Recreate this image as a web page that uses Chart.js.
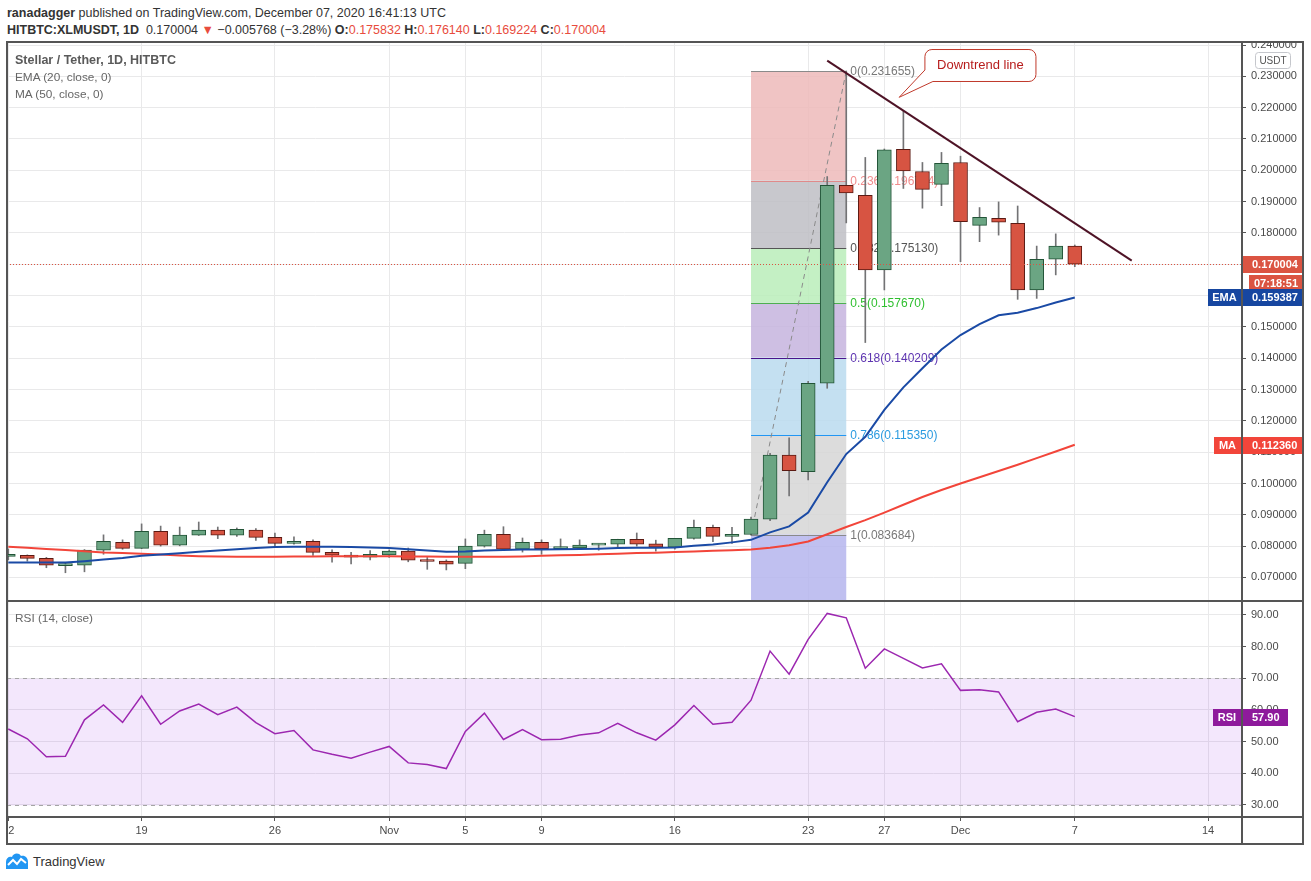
<!DOCTYPE html>
<html lang="en">

<head>
  <meta charset="UTF-8">
  <title>Stellar / Tether, 1D, HITBTC</title>
  <style>
    body {
      margin: 0;
      width: 1311px;
      height: 881px;
      position: relative;
      overflow: hidden;
      background: #fff;
      font-family: "Liberation Sans", Arial, sans-serif;
      color: #333;
    }

    canvas { position: absolute; }
    #price { left: 7px; top: 42px; }
    #rsi { left: 7px; top: 601px; }

    .txt { position: absolute; white-space: nowrap; line-height: 16px; }
    #hdr1 { left: 7px; top: 5px; font-size: 12.5px; }
    #hdr2 { left: 7px; top: 22px; font-size: 12.5px; }
    .red { color: #e84c3d; }
    .leg { left: 15px; font-size: 11.8px; color: #666; }
    .leg.main { font-size: 12.5px; font-weight: bold; color: #5a5a5a; }

    .line { position: absolute; background: #555; }
    #frame {
      position: absolute; left: 6px; top: 41px; width: 1294px; height: 800px;
      border: 2px solid #555; pointer-events: none;
    }

    #logo { position: absolute; left: 5px; top: 852px; }
    #logoTxt { left: 33px; top: 854px; font-size: 13px; color: #333; }
  </style>
</head>

<body>
  <div class="txt" id="hdr1"><b>ranadagger</b> published on TradingView.com, December 07, 2020 16:41:13 UTC</div>
  <div class="txt" id="hdr2"></div>

  <canvas id="price" width="1297" height="559"></canvas>
  <canvas id="rsi" width="1297" height="243"></canvas>

  <div class="txt leg main" style="top:52px">Stellar / Tether, 1D, HITBTC</div>
  <div class="txt leg" style="top:69px">EMA (20, close, 0)</div>
  <div class="txt leg" style="top:86px">MA (50, close, 0)</div>
  <div class="txt leg" style="top:610px">RSI (14, close)</div>

  <div id="frame"></div>
  <div class="line" style="left:7px; top:600px; width:1297px; height:2px"></div>
  <div class="line" style="left:7px; top:816px; width:1297px; height:2px"></div>
  <div class="line" style="left:1241px; top:42px; width:2px; height:802px"></div>

  <svg id="logo" width="24" height="18" viewBox="0 0 24 18">
    <path d="M1 17 V10 C1 6 4 4 7 5 C8 1 14 0 16 4 C20 3 23 6 23 10 V17 Z" fill="#2196f3" />
    <polyline points="3,13 8,8 12,12 16,7 21,11" fill="none" stroke="#fff" stroke-width="2" />
  </svg>
  <div class="txt" id="logoTxt">TradingView</div>

  <script src="https://cdn.jsdelivr.net/npm/chart.js"></script>

  <script>
    /* daily candles, Oct 12 -> Dec 7 2020 (index 0 = Oct 12) */
    const opens = [0.0767, 0.0771, 0.0761, 0.0738, 0.0739, 0.0787, 0.0812, 0.0793, 0.0847, 0.0803,
      0.0835, 0.0851, 0.0835, 0.0851, 0.0828, 0.0809, 0.0815, 0.0780, 0.0771, 0.0765,
      0.0772, 0.0784, 0.0755, 0.0752, 0.0745, 0.0800, 0.0838, 0.0790, 0.0812, 0.0792,
      0.0794, 0.0803, 0.0806, 0.0822, 0.0807, 0.0797, 0.0825, 0.0860, 0.0831, 0.0837,
      0.0886, 0.1091, 0.1038, 0.1320, 0.1952, 0.1920, 0.1682, 0.2067, 0.1996, 0.1955,
      0.2025, 0.1824, 0.1847, 0.1831, 0.1618, 0.1716, 0.175832]
    const highs = [0.0791, 0.0772, 0.0764, 0.0747, 0.0789, 0.0836, 0.0820, 0.0871, 0.0864, 0.0861,
      0.0877, 0.0861, 0.0858, 0.0856, 0.0842, 0.0830, 0.0820, 0.0788, 0.0780, 0.0786,
      0.0788, 0.0794, 0.0764, 0.0756, 0.0823, 0.0851, 0.0862, 0.0826, 0.0820, 0.0823,
      0.0820, 0.0807, 0.0822, 0.0842, 0.0819, 0.0825, 0.0883, 0.0867, 0.0860, 0.0893,
      0.1096, 0.1146, 0.1326, 0.1980, 0.2317, 0.2041, 0.2068, 0.2190, 0.2025, 0.2057,
      0.2045, 0.1881, 0.1899, 0.1886, 0.1758, 0.1797, 0.176140]
    const lows = [0.0756, 0.0752, 0.0731, 0.0715, 0.0718, 0.0774, 0.0790, 0.0792, 0.0800, 0.0801,
      0.0834, 0.0824, 0.0831, 0.0818, 0.0796, 0.0806, 0.0770, 0.0749, 0.0743, 0.0756,
      0.0764, 0.0750, 0.0726, 0.0724, 0.0728, 0.0797, 0.0788, 0.0781, 0.0774, 0.0790,
      0.0790, 0.0787, 0.0794, 0.0800, 0.0784, 0.0790, 0.0822, 0.0814, 0.0809, 0.0835,
      0.0881, 0.0960, 0.1011, 0.1304, 0.1832, 0.1450, 0.1618, 0.1942, 0.1879, 0.1887,
      0.1708, 0.1772, 0.1793, 0.1588, 0.1591, 0.1666, 0.169224]
    const closes = [0.0774, 0.0761, 0.0739, 0.0740, 0.0787, 0.0815, 0.0793, 0.0847, 0.0803, 0.0835,
      0.0851, 0.0835, 0.0854, 0.0828, 0.0809, 0.0815, 0.0780, 0.0771, 0.0765, 0.0774,
      0.0784, 0.0755, 0.0751, 0.0742, 0.0800, 0.0838, 0.0790, 0.0812, 0.0792, 0.0794,
      0.0803, 0.0807, 0.0822, 0.0806, 0.0797, 0.0825, 0.0860, 0.0831, 0.0838, 0.0886,
      0.1091, 0.1041, 0.1320, 0.1952, 0.1928, 0.1682, 0.2065, 0.1998, 0.1939, 0.2022,
      0.1836, 0.1850, 0.1834, 0.1618, 0.1716, 0.175772, 0.170004]

    const ema20 = [0.0748, 0.0748, 0.0748, 0.0748, 0.0752, 0.0757, 0.0762, 0.0769, 0.0773, 0.0777,
      0.0782, 0.0786, 0.0790, 0.0794, 0.0797, 0.0798, 0.0798, 0.0798, 0.0797, 0.0796,
      0.0794, 0.0790, 0.0786, 0.0782, 0.0783, 0.0786, 0.0788, 0.0789, 0.0789, 0.0790,
      0.0791, 0.0792, 0.0794, 0.0795, 0.0795, 0.0796, 0.0801, 0.0805, 0.0812, 0.0820,
      0.0844, 0.0863, 0.0907, 0.1004, 0.1094, 0.1149, 0.1235, 0.1307, 0.1368, 0.1428,
      0.1474, 0.1509, 0.1537, 0.1545, 0.1560, 0.1578, 0.159387]
    const ma50 = [0.0798, 0.0795, 0.0791, 0.0788, 0.0784, 0.0780, 0.0778, 0.0776, 0.0773, 0.0770,
      0.0768, 0.0767, 0.0766, 0.0766, 0.0766, 0.0767, 0.0767, 0.0768, 0.0768, 0.0768,
      0.0768, 0.0767, 0.0767, 0.0766, 0.0766, 0.0766, 0.0766, 0.0767, 0.0769, 0.0771,
      0.0772, 0.0774, 0.0776, 0.0778, 0.0779, 0.0781, 0.0783, 0.0785, 0.0787, 0.0789,
      0.0795, 0.0803, 0.0815, 0.0838, 0.0861, 0.0883, 0.0907, 0.0932, 0.0957, 0.0979,
      0.1000, 0.1020, 0.1040, 0.1060, 0.1081, 0.1102, 0.112360]
    const rsi14 = [54.0, 50.9, 45.2, 45.4, 56.9, 61.6, 56.1, 64.5, 55.5, 59.7,
      61.9, 58.5, 60.9, 56.0, 52.5, 53.5, 47.4, 46.0, 44.8, 46.7,
      48.5, 43.3, 42.8, 41.5, 53.2, 59.0, 50.7, 53.8, 50.6, 50.8,
      52.1, 52.8, 55.8, 52.8, 50.5, 55.3, 61.4, 55.5, 56.1, 63.1,
      78.6, 71.3, 82.3, 90.5, 89.1, 73.2, 79.3, 76.3, 73.3, 74.6,
      66.2, 66.4, 65.7, 56.3, 59.3, 60.3, 57.90]

    const tickDays = [0, 7, 14, 20, 24, 28, 35, 42, 46, 50, 56, 63]
    const tickLabels = ['12', '19', '26', 'Nov', '5', '9', '16', '23', '27', 'Dec', '7', '14']

    const fibRatios = [0, 0.236, 0.382, 0.5, 0.618, 0.786, 1]
    const fibPrices = [0.231655, 0.196734, 0.175130, 0.157670, 0.140209, 0.115350, 0.083684]
    const fibDays = [39, 44]
    const trendDays = [43.0, 58.99]
    const trendPrices = [0.23499, 0.17113]
    const countdown = '07:18:51'

    /* view window and drawing styles */
    const X_MIN = -0.068, X_MAX = 64.78
    const P_MIN = 0.06248, P_MAX = 0.24096
    const R_MIN = 26.21, R_MAX = 94.42
    const FONT = '"Liberation Sans", Arial, sans-serif'
    const GRID = '#e9e9ea'
    const AXIS_TXT = '#4a4a4a'
    const fibFills = ['rgba(237,186,186,0.85)', 'rgba(190,190,196,0.85)', 'rgba(186,237,186,0.85)',
      'rgba(197,180,222,0.85)', 'rgba(186,219,238,0.85)', 'rgba(214,214,214,0.85)', 'rgba(181,181,237,0.85)']
    const fibLines = ['#8a8a8a', '#e08a8a', '#555555', '#4caf50', '#4a148c', '#2196f3', '#8a8a8a']
    const fibText = ['#787878', '#f08c8c', '#555555', '#2fbf2f', '#5e35b1', '#2b9be0', '#787878']
    const callout = { d0: 48.13, d1: 53.96, p0: 0.23856, p1: 0.22835, baseD: 48.55, baseP: 0.23202, tipD: 46.78, tipP: 0.2233 }

    const last = closes.length - 1
    const idx = closes.map((_, i) => i)
    const isUp = i => closes[i] >= opens[i]

    /* header line built from the last candle */
    const chg = closes[last] - closes[last - 1]
    const pct = chg / closes[last - 1] * 100
    const m = s => s.replace('-', '\u2212')
    document.getElementById('hdr2').innerHTML =
      '<b>HITBTC:XLMUSDT, 1D</b>&nbsp; ' + closes[last].toFixed(6) +
      ' <span class="red">&#9660;</span> ' + m(chg.toFixed(6)) + ' (' + m(pct.toFixed(2)) + '%) ' +
      '<b>O:</b><span class="red">' + opens[last].toFixed(6) + '</span> ' +
      '<b>H:</b><span class="red">' + highs[last].toFixed(6) + '</span> ' +
      '<b>L:</b><span class="red">' + lows[last].toFixed(6) + '</span> ' +
      '<b>C:</b><span class="red">' + closes[last].toFixed(6) + '</span>'

    function tag(ctx, x, yc, w, text, bg, align) {
      ctx.fillStyle = bg
      ctx.fillRect(x, Math.round(yc) - 8, w, 17)
      ctx.fillStyle = '#fff'
      ctx.font = 'bold 11px ' + FONT
      ctx.textBaseline = 'middle'
      ctx.textAlign = align || 'left'
      ctx.fillText(text, align === 'center' ? x + w / 2 : x + 9, Math.round(yc) + 0.5)
    }

    function xScaleBase(extra) {
      return Object.assign({
        type: 'linear', min: X_MIN, max: X_MAX, offset: false,
        afterBuildTicks: s => { s.ticks = tickDays.map(v => ({ value: v })) },
        border: { display: false }
      }, extra)
    }

    /* fib retracement drawn under the candles */
    const fibPlugin = {
      id: 'fib',
      beforeDatasetsDraw(chart) {
        const { ctx, chartArea: a, scales: { x, y } } = chart
        const x0 = x.getPixelForValue(fibDays[0]), x1 = x.getPixelForValue(fibDays[1])
        ctx.save()
        ctx.beginPath(); ctx.rect(a.left, a.top, a.width, a.height); ctx.clip()
        fibPrices.forEach((p, i) => {
          const top = y.getPixelForValue(p)
          const bot = i + 1 < fibPrices.length ? y.getPixelForValue(fibPrices[i + 1]) : a.bottom
          ctx.fillStyle = fibFills[i]
          ctx.fillRect(x0, top, x1 - x0, bot - top)
        })
        ctx.font = '12px ' + FONT
        ctx.textBaseline = 'middle'
        ctx.textAlign = 'left'
        fibPrices.forEach((p, i) => {
          const yy = Math.round(y.getPixelForValue(p)) + 0.5
          ctx.strokeStyle = fibLines[i]; ctx.lineWidth = 1
          ctx.beginPath(); ctx.moveTo(x0, yy); ctx.lineTo(x1, yy); ctx.stroke()
          ctx.fillStyle = fibText[i]
          ctx.fillText(fibRatios[i] + '(' + p.toFixed(6) + ')', x1 + 4, yy)
        })
        ctx.setLineDash([5, 4]); ctx.strokeStyle = '#8a8a8a'; ctx.lineWidth = 1
        ctx.beginPath()
        ctx.moveTo(x0, y.getPixelForValue(fibPrices[fibPrices.length - 1]))
        ctx.lineTo(x1, y.getPixelForValue(fibPrices[0]))
        ctx.stroke()
        ctx.restore()
      }
    }

    /* trend line, callout, price line and axis tags */
    const overlayPlugin = {
      id: 'overlay',
      afterDatasetsDraw(chart) {
        const { ctx, chartArea: a, scales: { x, y } } = chart
        ctx.save()
        ctx.beginPath(); ctx.rect(a.left, a.top, a.width, a.height); ctx.clip()
        // last price dotted line
        const py = Math.round(y.getPixelForValue(closes[last])) + 0.5
        ctx.setLineDash([1, 2]); ctx.strokeStyle = '#db5442'; ctx.lineWidth = 1
        ctx.beginPath(); ctx.moveTo(a.left, py); ctx.lineTo(a.right, py); ctx.stroke()
        ctx.setLineDash([])
        // downtrend line
        ctx.strokeStyle = '#4e1326'; ctx.lineWidth = 2
        ctx.beginPath()
        ctx.moveTo(x.getPixelForValue(trendDays[0]), y.getPixelForValue(trendPrices[0]))
        ctx.lineTo(x.getPixelForValue(trendDays[1]), y.getPixelForValue(trendPrices[1]))
        ctx.stroke()
        // callout
        const L = x.getPixelForValue(callout.d0), R = x.getPixelForValue(callout.d1)
        const T = y.getPixelForValue(callout.p0), B = y.getPixelForValue(callout.p1)
        const bx = x.getPixelForValue(callout.baseD), ly = y.getPixelForValue(callout.baseP)
        const tx = x.getPixelForValue(callout.tipD), ty = y.getPixelForValue(callout.tipP)
        const r = 7
        ctx.beginPath()
        ctx.moveTo(L + r, T)
        ctx.lineTo(R - r, T); ctx.arcTo(R, T, R, T + r, r)
        ctx.lineTo(R, B - r); ctx.arcTo(R, B, R - r, B, r)
        ctx.lineTo(bx, B); ctx.lineTo(tx, ty); ctx.lineTo(L, ly)
        ctx.lineTo(L, T + r); ctx.arcTo(L, T, L + r, T, r)
        ctx.closePath()
        ctx.fillStyle = '#fff'; ctx.fill()
        ctx.strokeStyle = '#c0392b'; ctx.lineWidth = 1; ctx.stroke()
        ctx.fillStyle = '#b71c1c'; ctx.font = '13px ' + FONT
        ctx.textAlign = 'center'; ctx.textBaseline = 'middle'
        ctx.fillText('Downtrend line', (L + R) / 2, (T + B) / 2)
        ctx.restore()
      },
      afterDraw(chart) {
        const { ctx, chartArea: a, scales: { y } } = chart
        const W = chart.width
        ctx.save()
        const py = y.getPixelForValue(closes[last])
        tag(ctx, a.right + 1, py, W - a.right - 1, closes[last].toFixed(6), '#db5442')
        tag(ctx, a.right + 7, py + 19, W - a.right - 8, countdown, '#db5442', 'center')
        const ey = y.getPixelForValue(ema20[last])
        tag(ctx, a.right - 34, ey, 33, 'EMA', '#1646a0', 'center')
        tag(ctx, a.right + 1, ey, W - a.right - 1, ema20[last].toFixed(6), '#1646a0')
        const my = y.getPixelForValue(ma50[last])
        tag(ctx, a.right - 28, my, 27, 'MA', '#f2453a', 'center')
        tag(ctx, a.right + 1, my, W - a.right - 1, ma50[last].toFixed(6), '#f2453a')
        // currency badge
        const bx = a.right + 13, by = 10
        ctx.fillStyle = '#fff'; ctx.strokeStyle = '#c5c7cc'; ctx.lineWidth = 1
        ctx.beginPath()
        ctx.roundRect(bx + 0.5, by + 0.5, 35, 16, 3)
        ctx.fill(); ctx.stroke()
        ctx.fillStyle = '#555'; ctx.font = '10px ' + FONT
        ctx.textAlign = 'center'; ctx.textBaseline = 'middle'
        ctx.fillText('USDT', bx + 18, by + 9)
        ctx.restore()
      }
    }

    new Chart(document.getElementById('price'), {
      type: 'bar',
      data: {
        datasets: [{
          type: 'line',
          data: idx.map(i => ({ x: i, y: ema20[i] })),
          borderColor: '#1a4aa5', borderWidth: 2, pointRadius: 0, order: 0
        }, {
          type: 'line',
          data: idx.map(i => ({ x: i, y: ma50[i] })),
          borderColor: '#f2453a', borderWidth: 2, pointRadius: 0, order: 0
        }, {
          data: idx.map(i => ({ x: i, y: [lows[i], highs[i]] })),
          backgroundColor: '#737375', barThickness: 1, grouped: false, order: 2
        }, {
          data: idx.map(i => ({ x: i, y: [opens[i], closes[i]] })),
          backgroundColor: c => isUp(c.dataIndex) ? '#6ba583' : '#d75442',
          borderColor: c => isUp(c.dataIndex) ? '#225437' : '#5b1a13',
          borderWidth: 1, borderSkipped: false, barThickness: 14, minBarLength: 2,
          grouped: false, order: 1
        }]
      },
      options: {
        responsive: false,
        animation: false,
        layout: { padding: 0 },
        plugins: { legend: { display: false }, tooltip: { enabled: false } },
        scales: {
          x: xScaleBase({
            ticks: { display: false },
            grid: { color: GRID, drawTicks: false, offset: false },
            afterFit: s => { s.height = 0; s.paddingLeft = 0; s.paddingRight = 0 }
          }),
          y: {
            position: 'right', min: P_MIN, max: P_MAX,
            ticks: {
              stepSize: 0.01, includeBounds: false, padding: 5, color: AXIS_TXT,
              font: { family: FONT, size: 11 }, callback: v => v.toFixed(6)
            },
            grid: { color: GRID, tickColor: '#555', tickLength: 4 },
            border: { display: false },
            afterFit: s => { s.width = 62; s.paddingTop = 0; s.paddingBottom = 0 }
          }
        }
      },
      plugins: [fibPlugin, overlayPlugin]
    })

    /* RSI pane with the date axis */
    const rsiPlugin = {
      id: 'rsiBand',
      beforeDatasetsDraw(chart) {
        const { ctx, chartArea: a, scales: { y } } = chart
        const y70 = Math.round(y.getPixelForValue(70)) + 0.5
        const y30 = Math.round(y.getPixelForValue(30)) + 0.5
        ctx.save()
        ctx.fillStyle = 'rgba(150,40,230,0.11)'
        ctx.fillRect(a.left, y70, a.width, y30 - y70)
        ctx.setLineDash([4, 4]); ctx.strokeStyle = '#a5a5a5'; ctx.lineWidth = 1
        ctx.beginPath()
        ctx.moveTo(a.left, y70); ctx.lineTo(a.right, y70)
        ctx.moveTo(a.left, y30); ctx.lineTo(a.right, y30)
        ctx.stroke()
        ctx.restore()
      },
      afterDraw(chart) {
        const { ctx, chartArea: a, scales: { y } } = chart
        const ry = y.getPixelForValue(rsi14[last])
        ctx.save()
        tag(ctx, a.right - 29, ry, 28, 'RSI', '#8e1a9c', 'center')
        tag(ctx, a.right + 1, ry, 45, rsi14[last].toFixed(2), '#8e1a9c')
        ctx.restore()
      }
    }

    new Chart(document.getElementById('rsi'), {
      type: 'line',
      data: {
        datasets: [{
          data: idx.map(i => ({ x: i, y: rsi14[i] })),
          borderColor: '#9c27b0', borderWidth: 1.5, pointRadius: 0
        }]
      },
      options: {
        responsive: false,
        animation: false,
        layout: { padding: 0 },
        plugins: { legend: { display: false }, tooltip: { enabled: false } },
        scales: {
          x: xScaleBase({
            ticks: {
              autoSkip: false, maxRotation: 0, padding: 3, color: AXIS_TXT,
              font: { family: FONT, size: 11 },
              callback: v => tickLabels[tickDays.indexOf(v)]
            },
            grid: { color: GRID, tickColor: '#555', tickLength: 4 },
            afterFit: s => { s.height = 27; s.paddingLeft = 0; s.paddingRight = 0 }
          }),
          y: {
            position: 'right', min: R_MIN, max: R_MAX,
            ticks: {
              stepSize: 10, includeBounds: false, padding: 5, color: AXIS_TXT,
              font: { family: FONT, size: 11 }, callback: v => v.toFixed(2)
            },
            grid: { color: GRID, tickColor: '#555', tickLength: 4 },
            border: { display: false },
            afterFit: s => { s.width = 62; s.paddingTop = 0; s.paddingBottom = 0 }
          }
        }
      },
      plugins: [rsiPlugin]
    })
  </script>
</body>

</html>
